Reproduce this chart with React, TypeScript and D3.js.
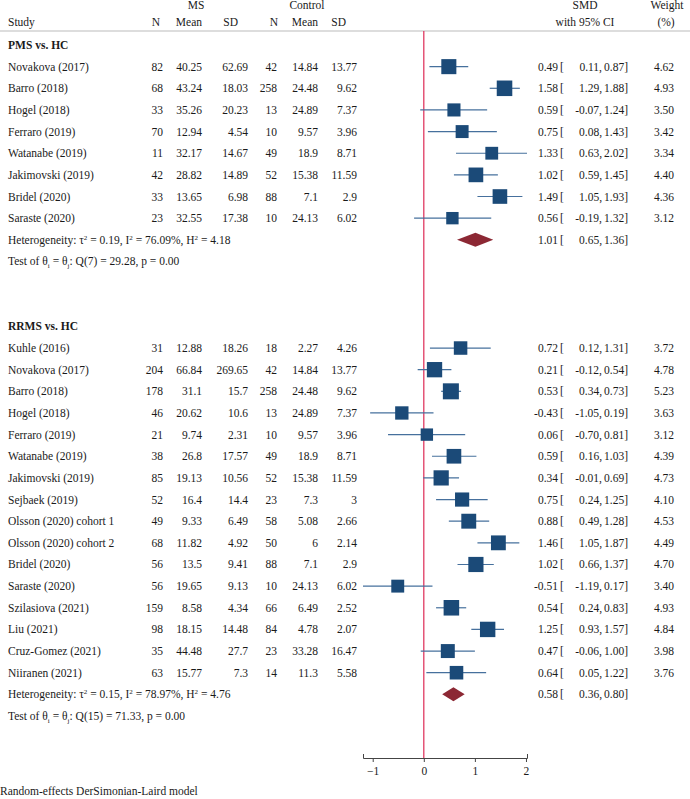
import { useEffect, useRef } from "react"
import * as d3 from "d3"

// [study, N, mean, SD, N, mean, SD, SMD, lo, hi, weight]
type Row = [string, number, number, number, number, number, number, number, number, number, number]

const pmsRows: Row[] = [
  ["Novakova (2017)", 82, 40.25, 62.69, 42, 14.84, 13.77, 0.49, 0.11, 0.87, 4.62],
  ["Barro (2018)", 68, 43.24, 18.03, 258, 24.48, 9.62, 1.58, 1.29, 1.88, 4.93],
  ["Hogel (2018)", 33, 35.26, 20.23, 13, 24.89, 7.37, 0.59, -0.07, 1.24, 3.5],
  ["Ferraro (2019)", 70, 12.94, 4.54, 10, 9.57, 3.96, 0.75, 0.08, 1.43, 3.42],
  ["Watanabe (2019)", 11, 32.17, 14.67, 49, 18.9, 8.71, 1.33, 0.63, 2.02, 3.34],
  ["Jakimovski (2019)", 42, 28.82, 14.89, 52, 15.38, 11.59, 1.02, 0.59, 1.45, 4.4],
  ["Bridel (2020)", 33, 13.65, 6.98, 88, 7.1, 2.9, 1.49, 1.05, 1.93, 4.36],
  ["Saraste (2020)", 23, 32.55, 17.38, 10, 24.13, 6.02, 0.56, -0.19, 1.32, 3.12],
]

const rrmsRows: Row[] = [
  ["Kuhle (2016)", 31, 12.88, 18.26, 18, 2.27, 4.26, 0.72, 0.12, 1.31, 3.72],
  ["Novakova (2017)", 204, 66.84, 269.65, 42, 14.84, 13.77, 0.21, -0.12, 0.54, 4.78],
  ["Barro (2018)", 178, 31.1, 15.7, 258, 24.48, 9.62, 0.53, 0.34, 0.73, 5.23],
  ["Hogel (2018)", 46, 20.62, 10.6, 13, 24.89, 7.37, -0.43, -1.05, 0.19, 3.63],
  ["Ferraro (2019)", 21, 9.74, 2.31, 10, 9.57, 3.96, 0.06, -0.7, 0.81, 3.12],
  ["Watanabe (2019)", 38, 26.8, 17.57, 49, 18.9, 8.71, 0.59, 0.16, 1.03, 4.39],
  ["Jakimovski (2019)", 85, 19.13, 10.56, 52, 15.38, 11.59, 0.34, -0.01, 0.69, 4.73],
  ["Sejbaek (2019)", 52, 16.4, 14.4, 23, 7.3, 3, 0.75, 0.24, 1.25, 4.1],
  ["Olsson (2020) cohort 1", 49, 9.33, 6.49, 58, 5.08, 2.66, 0.88, 0.49, 1.28, 4.53],
  ["Olsson (2020) cohort 2", 68, 11.82, 4.92, 50, 6, 2.14, 1.46, 1.05, 1.87, 4.49],
  ["Bridel (2020)", 56, 13.5, 9.41, 88, 7.1, 2.9, 1.02, 0.66, 1.37, 4.7],
  ["Saraste (2020)", 56, 19.65, 9.13, 10, 24.13, 6.02, -0.51, -1.19, 0.17, 3.4],
  ["Szilasiova (2021)", 159, 8.58, 4.34, 66, 6.49, 2.52, 0.54, 0.24, 0.83, 4.93],
  ["Liu (2021)", 98, 18.15, 14.48, 84, 4.78, 2.07, 1.25, 0.93, 1.57, 4.84],
  ["Cruz-Gomez (2021)", 35, 44.48, 27.7, 23, 33.28, 16.47, 0.47, -0.06, 1.0, 3.98],
  ["Niiranen (2021)", 63, 15.77, 7.3, 14, 11.3, 5.58, 0.64, 0.05, 1.22, 3.76],
]

// overall: [SMD, lo, hi]; het: [tau2, I2, H2]; test: [df, Q, p]
const groups = [
  { title: "PMS vs. HC", rows: pmsRows, overall: [1.01, 0.65, 1.36], het: ["0.19", "76.09%", "4.18"], test: ["7", "29.28", "0.00"] },
  { title: "RRMS vs. HC", rows: rrmsRows, overall: [0.58, 0.36, 0.8], het: ["0.15", "78.97%", "4.76"], test: ["15", "71.33", "0.00"] },
]

const xTicks = [-1, 0, 1, 2]

export default function App() {
  const svgRef = useRef<SVGSVGElement>(null)

  useEffect(() => {
    document.body.style.margin = "0"
    if (!svgRef.current) return
    const svg = d3.select(svgRef.current)
    svg.selectAll("*").remove()

    const font = "'Liberation Serif', 'Times New Roman', serif"
    const fs = 11.5
    const x = d3.scaleLinear().domain([-1.19, 2.02]).range([363, 527])
    const y = d3.scaleLinear().domain([0, 31]).range([45, 716])
    const axisY = 758

    const txt = (tx: number, ty: number, s: string, anchor = "start", weight = "normal") =>
      svg
        .append("text")
        .attr("x", tx)
        .attr("y", ty + 4)
        .attr("text-anchor", anchor)
        .attr("font-family", font)
        .attr("font-size", fs)
        .attr("font-weight", weight)
        .attr("fill", "#1a1a1a")
        .text(s)

    // headers
    txt(196, 5, "MS", "middle")
    txt(307, 5, "Control", "middle")
    txt(585, 5, "SMD", "middle")
    txt(667, 5, "Weight", "middle")
    txt(8, 22, "Study")
    txt(160, 22, "N", "end")
    txt(202, 22, "Mean", "end")
    txt(238, 22, "SD", "end")
    txt(278, 22, "N", "end")
    txt(318, 22, "Mean", "end")
    txt(346, 22, "SD", "end")
    txt(585, 22, "with 95% CI", "middle")
    txt(666, 22, "(%)", "middle")

    svg.append("line").attr("x1", 0).attr("x2", 690).attr("y1", 31).attr("y2", 31).attr("stroke", "#aaa").attr("stroke-width", 0.8)

    // reference line at 0
    svg
      .append("line")
      .attr("x1", x(0))
      .attr("x2", x(0))
      .attr("y1", 31)
      .attr("y2", axisY)
      .attr("stroke", "#e03a62")
      .attr("stroke-width", 1.3)

    const colRight = [163, 202, 248, 277, 318, 357]
    const ci = (lo: number, hi: number, smd: number, w: string, ty: number) => {
      txt(558, ty, smd.toFixed(2), "end")
      txt(560, ty, "[")
      txt(602, ty, lo.toFixed(2) + ",", "end")
      txt(628, ty, hi.toFixed(2) + "]", "end")
      if (w) txt(674, ty, w, "end")
    }

    let idx = 0
    groups.forEach((g) => {
      txt(8, y(idx), g.title, "start", "bold")
      idx++
      g.rows.forEach((r) => {
        const ty = y(idx)
        txt(8, ty, r[0])
        for (let c = 0; c < 6; c++) txt(colRight[c], ty, String(r[c + 1]), "end")
        ci(r[8], r[9], r[7], r[10].toFixed(2), ty)
        svg
          .append("line")
          .attr("x1", x(r[8]))
          .attr("x2", x(r[9]))
          .attr("y1", ty)
          .attr("y2", ty)
          .attr("stroke", "#46709d")
          .attr("stroke-width", 1.2)
        const side = 7 * Math.sqrt(r[10])
        svg
          .append("rect")
          .attr("x", x(r[7]) - side / 2)
          .attr("y", ty - side / 2)
          .attr("width", side)
          .attr("height", side)
          .attr("fill", "#1b4a78")
        idx++
      })

      // heterogeneity
      const hy = y(idx)
      const ht = svg
        .append("text")
        .attr("x", 8)
        .attr("y", hy + 4)
        .attr("font-family", font)
        .attr("font-size", fs)
        .attr("fill", "#1a1a1a")
      const sup = (s: string) => ht.append("tspan").attr("font-size", 7).attr("dy", -4).text(s)
      const norm = (s: string) => ht.append("tspan").attr("font-size", fs).attr("dy", 4).text(s)
      ht.append("tspan").text("Heterogeneity: τ")
      sup("2")
      norm(` = ${g.het[0]}, I`)
      sup("2")
      norm(` = ${g.het[1]}, H`)
      sup("2")
      norm(` = ${g.het[2]}`)
      const [o, lo, hi] = g.overall
      ci(lo, hi, o, "", hy)
      svg
        .append("path")
        .attr("d", `M${x(lo)},${hy} L${x(o)},${hy - 7} L${x(hi)},${hy} L${x(o)},${hy + 7} Z`)
        .attr("fill", "#8c2834")
      idx++

      const tt = svg
        .append("text")
        .attr("x", 8)
        .attr("y", y(idx) + 4)
        .attr("font-family", font)
        .attr("font-size", fs)
        .attr("fill", "#1a1a1a")
      tt.append("tspan").text("Test of θ")
      tt.append("tspan").attr("font-size", 7).attr("dy", 3).text("i")
      tt.append("tspan").attr("font-size", fs).attr("dy", -3).text(" = θ")
      tt.append("tspan").attr("font-size", 7).attr("dy", 3).text("j")
      tt.append("tspan").attr("font-size", fs).attr("dy", -3).text(`: Q(${g.test[0]}) = ${g.test[1]}, p = ${g.test[2]}`)
      idx += 3
    })

    // axis
    const axis = svg
      .append("g")
      .attr("transform", `translate(0,${axisY})`)
      .call(d3.axisBottom(x).tickValues(xTicks).tickSize(4).tickSizeOuter(-4).tickPadding(5).tickFormat(d3.format("d")))
    axis.select(".domain").attr("stroke", "#444")
    axis.selectAll(".tick line").attr("stroke", "#444")
    axis.selectAll("text").attr("font-family", font).attr("font-size", fs).attr("fill", "#1a1a1a")

    txt(0, 791, "Random-effects DerSimonian-Laird model")
  }, [])

  return <svg ref={svgRef} width={690} height={799} style={{ display: "block", background: "#fff" }} />
}
